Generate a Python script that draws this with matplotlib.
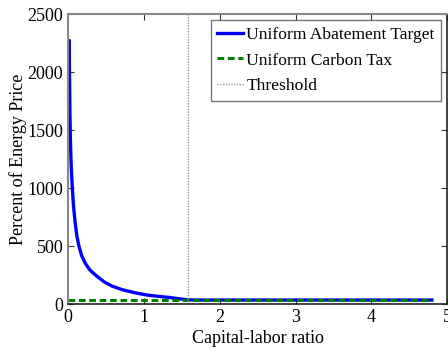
import numpy as np
import matplotlib
matplotlib.use("Agg")
import matplotlib.pyplot as plt

# values
ratio = [0.015, 0.018, 0.024, 0.03, 0.04, 0.056, 0.07, 0.09, 0.115, 0.143,
         0.18, 0.227, 0.28, 0.34, 0.40, 0.48, 0.58, 0.72, 0.88, 1.04,
         1.2, 1.34, 1.46, 1.58, 1.7, 2.0, 3.0, 4.0, 4.8]
abatement = [2270, 2000, 1650, 1430, 1200, 1000, 860, 720, 590, 500,
             415, 352, 300, 262, 230, 190, 155, 123, 98, 78,
             66, 57, 46, 37, 35, 35, 35, 35, 35]
tax_x = [0.0, 4.8]
tax = [35, 35]
threshold = 1.58

plt.rcParams["font.family"] = ["Liberation Serif", "DejaVu Serif"]

fig = plt.figure(figsize=(4.48, 3.54), dpi=100)
ax = fig.add_axes([0.152, 0.141, 0.846, 0.819])

ax.plot(ratio, abatement, color="#0000ff", lw=2.4, label="Uniform Abatement Target")
ax.plot(tax_x, tax, color="#008000", lw=2.2, ls=(0, (2.2, 1.2)), label="Uniform Carbon Tax")
ax.plot([threshold, threshold], [0, 2500], color="#999999", lw=1.0, ls=(0, (1, 1)),
        label="Threshold")

ax.set_xlim(0, 5)
ax.set_ylim(0, 2500)
ax.set_xticks([0, 1, 2, 3, 4, 5])
ax.set_yticks([0, 500, 1000, 1500, 2000, 2500])
ax.tick_params(direction="in", top=True, right=True, labelsize=13, length=4,
               color="#333333")
for side in ["left", "top"]:
    ax.spines[side].set_color("#888888")
    ax.spines[side].set_linewidth(1.5)
for side in ["bottom", "right"]:
    ax.spines[side].set_color("#222222")
    ax.spines[side].set_linewidth(1.2)

ax.set_xlabel("Capital-labor ratio", fontsize=13, labelpad=3)
ax.set_ylabel("Percent of Energy Price", fontsize=13, labelpad=0)

leg = ax.legend(loc="upper right", fontsize=12.6, handlelength=1.5, handletextpad=0.2,
                borderpad=0.35, labelspacing=0.55, borderaxespad=0.35, fancybox=False)
leg.get_frame().set_edgecolor("#555555")
leg.get_frame().set_linewidth(1.0)

fig.savefig("out.png", dpi=100)
